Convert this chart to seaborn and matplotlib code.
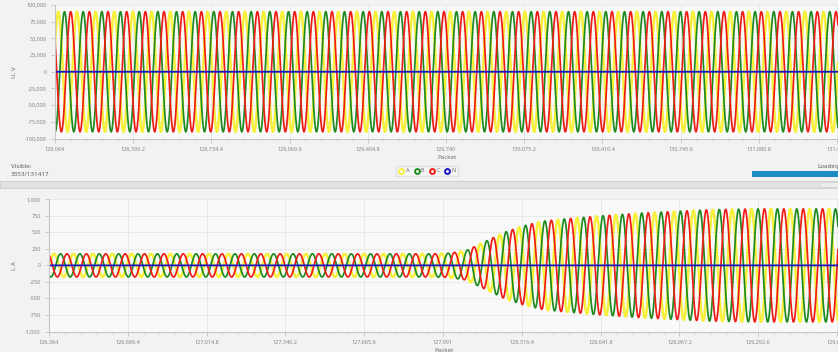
import numpy as np
import pandas as pd
import matplotlib
matplotlib.use('Agg')
import matplotlib.pyplot as plt
from matplotlib.ticker import FuncFormatter, FixedLocator
from matplotlib.lines import Line2D
from matplotlib.patches import Rectangle
import seaborn as sns

# Фазы и цвета
phases = ['A', 'B', 'C', 'N']
colors = {'A': '#f6f03a', 'B': '#1f8a1f', 'C': '#f01c16', 'N': '#1414c0'}
widths = {'A': 1.8, 'B': 1.25, 'C': 1.25, 'N': 1.3}
phase_shift = {'A': 0, 'B': -120, 'C': 120, 'N': 0}  # градусы
samples_per_cycle = 80

# Напряжение (верхний график)
u_start, u_end = 128064, 131420
u_tick_step = 335.2
u_amp = {'A': 90000, 'B': 90000, 'C': 90000, 'N': 0}
u_peak_offset = 14
u_yticks = [-100000, -75000, -50000, -25000, 0, 25000, 50000, 75000, 100000]

# Ток (нижний график), амплитуда по периодам
i_start, i_end = 126364, 129622
i_tick_step = 325.4
i_peak_offset = 21
i_cycle_amp = [175, 175, 175, 175, 175, 175, 175, 175, 175, 175,
               175, 175, 175, 175, 175, 175, 175, 175, 175, 175,
               180, 220, 360, 500, 600, 670, 700, 725, 750, 770,
               790, 805, 820, 835, 845, 850, 855, 855, 855, 855,
               855, 855]
i_scale = {'A': 1.0, 'B': 1.0, 'C': 1.0, 'N': 0.0}
i_yticks = [-1000, -750, -500, -250, 0, 250, 500, 750, 1000]

visible_text = '3353/131417'


def wave(start, end, cycle_amp, peak_offset, shift):
    t = np.arange(start, end + 1)
    centers = start + samples_per_cycle * (np.arange(len(cycle_amp)) + 0.5)
    env = np.interp(t, centers, cycle_amp)
    ang = 2 * np.pi * (t - start - peak_offset) / samples_per_cycle + np.deg2rad(shift)
    return t, env * np.cos(ang)


def build(start, end, amps, peak_offset):
    frames = []
    for p in phases:
        t, v = wave(start, end, amps[p], peak_offset, phase_shift[p])
        frames.append(pd.DataFrame({'packet': t, 'value': v, 'phase': p}))
    return pd.concat(frames, ignore_index=True)


n_u = len(i_cycle_amp) + 2
df_u = build(u_start, u_end, {p: [u_amp[p]] * n_u for p in phases}, u_peak_offset)
df_i = build(i_start, i_end, {p: [a * i_scale[p] for a in i_cycle_amp] for p in phases}, i_peak_offset)

sns.set_theme(style='white')
plt.rcParams['font.family'] = ['Open Sans', 'DejaVu Sans']

W, H = 838, 352
fig = plt.figure(figsize=(W / 100, H / 100), dpi=100, facecolor='#f2f2f2')


def fmt_x(v, pos):
    s = f"{v:,.1f}"
    return s[:-2] if s.endswith('.0') else s


def fmt_y(v, pos):
    return f"{v:,.0f}"


def style_axis(ax, start, end, step, yticks, ylabel):
    ax.set_facecolor('#f9f9f9')
    ax.set_xlim(start, end)
    ax.set_ylim(yticks[0], yticks[-1])
    ax.xaxis.set_major_locator(FixedLocator(np.arange(start, end, step)))
    ax.xaxis.set_minor_locator(FixedLocator(np.arange(start, end, step / 5)))
    ax.xaxis.set_major_formatter(FuncFormatter(fmt_x))
    ax.yaxis.set_major_locator(FixedLocator(yticks))
    ax.yaxis.set_major_formatter(FuncFormatter(fmt_y))
    ax.grid(True, which='major', color='#e6e6e6', linewidth=0.6)
    for s in ['top', 'right']:
        ax.spines[s].set_visible(False)
    for s in ['left', 'bottom']:
        ax.spines[s].set_color('#c4c4c4')
        ax.spines[s].set_linewidth(0.8)
    ax.tick_params(axis='both', which='major', labelsize=4, labelcolor='#808080',
                   color='#c4c4c4', length=3, width=0.6, pad=3, bottom=True, left=True)
    ax.tick_params(axis='x', which='minor', color='#c4c4c4', length=1.5, width=0.5, bottom=True)
    ax.set_xlabel('Packet', fontsize=4.5, color='#666666', labelpad=2)
    ax.set_ylabel(ylabel, fontsize=4.5, color='#666666', labelpad=6)


def draw(ax, df):
    for p in phases:
        sns.lineplot(data=df[df['phase'] == p], x='packet', y='value',
                     color=colors[p], estimator=None, sort=False,
                     linewidth=widths[p], legend=False, ax=ax)


# Верхний график: напряжение
ax1 = fig.add_axes([55 / W, 1 - 138.5 / H, (W - 55) / W, 133.5 / H])
draw(ax1, df_u)
style_axis(ax1, u_start, u_end, u_tick_step, u_yticks, 'U, V')

# Нижний график: ток
ax2 = fig.add_axes([49 / W, 1 - 331.5 / H, (W - 49) / W, 132.2 / H])
draw(ax2, df_i)
style_axis(ax2, i_start, i_end, i_tick_step, i_yticks, 'I, A')

# Подписи и элементы интерфейса
fig.text(11 / W, 1 - 166 / H, 'Visible:', fontsize=4.5, color='#555555', va='center')
fig.text(11 / W, 1 - 174.5 / H, visible_text, fontsize=4.5, color='#555555', va='center')
fig.text(817 / W, 1 - 166.5 / H, 'Loading...', fontsize=4.5, color='#555555', va='center')
fig.patches.append(Rectangle((752 / W, 1 - 177 / H), (W - 752) / W, 6.5 / H,
                             transform=fig.transFigure, facecolor='#1b8cc6',
                             edgecolor='none'))
fig.patches.append(Rectangle((0, 1 - 188 / H), 1, 7.5 / H, transform=fig.transFigure,
                             facecolor='#e2e2e2', edgecolor='#cdcdcd', linewidth=0.6))
fig.patches.append(Rectangle((820 / W, 1 - 186.5 / H), 18 / W, 4.5 / H,
                             transform=fig.transFigure, facecolor='#ececec',
                             edgecolor='#d2d2d2', linewidth=0.5))

handles = [Line2D([], [], linestyle='none', marker='o', markersize=3.5,
                  markerfacecolor='#ffffff', markeredgecolor=colors[p],
                  markeredgewidth=1.4, label=p) for p in phases]
fig.legend(handles=handles, loc='center', bbox_to_anchor=(427 / W, 1 - 171 / H),
           ncol=4, fontsize=4, frameon=True, edgecolor='#dddddd', facecolor='#f7f7f7',
           handletextpad=0.3, columnspacing=0.8, borderpad=0.5, handlelength=1.0,
           labelcolor='#666666', fancybox=False)

fig.savefig('out.png', dpi=100, facecolor=fig.get_facecolor())
